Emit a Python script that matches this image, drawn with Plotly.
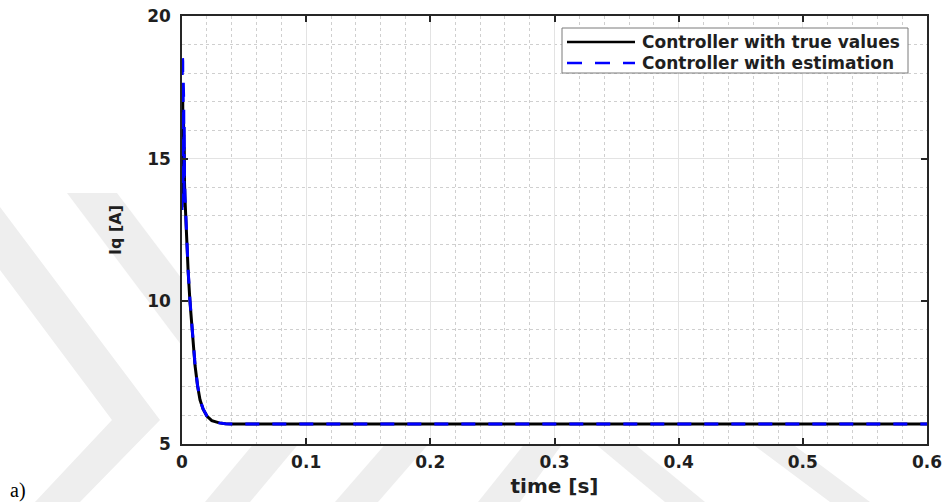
import plotly.graph_objects as go

# ---------------- data ----------------
t_true = [0, 0.0002, 0.0004, 0.0006, 0.0008, 0.0010, 0.0012, 0.0014, 0.0016, 0.0018,
          0.0020, 0.0024, 0.0030, 0.0040, 0.0050, 0.0064, 0.0080, 0.0095, 0.0105,
          0.0125, 0.0145, 0.0170, 0.0200, 0.0240, 0.0300, 0.0350, 0.0400,
          0.1, 0.2, 0.3, 0.4, 0.5, 0.6]
iq_true = [13.3, 17.3, 13.4, 17.0, 13.5, 16.6, 13.6, 16.0, 13.8, 15.4,
           14.2, 13.6, 12.9, 11.9, 11.0, 10.0, 9.0, 8.2, 7.75,
           7.05, 6.55, 6.22, 5.98, 5.82, 5.74, 5.71, 5.70,
           5.70, 5.70, 5.70, 5.70, 5.70, 5.70]

t_est = [0, 0.0002, 0.0004, 0.0006, 0.0008, 0.0010, 0.0012, 0.0014, 0.0016, 0.0018,
         0.0020, 0.0024, 0.0030, 0.0040, 0.0050, 0.0064, 0.0080, 0.0095, 0.0105,
         0.0125, 0.0145, 0.0170, 0.0200, 0.0240, 0.0300, 0.0350, 0.0400,
         0.1, 0.2, 0.3, 0.4, 0.5, 0.6]
iq_est = [13.2, 18.7, 13.3, 18.4, 13.5, 17.8, 13.6, 17.0, 13.8, 16.2,
          14.5, 13.7, 12.95, 11.95, 11.05, 10.05, 9.05, 8.22, 7.78,
          7.07, 6.56, 6.23, 5.99, 5.82, 5.74, 5.71, 5.70,
          5.70, 5.70, 5.70, 5.70, 5.70, 5.70]

x_ticks = [0, 0.1, 0.2, 0.3, 0.4, 0.5, 0.6]
x_tick_labels = ["0", "0.1", "0.2", "0.3", "0.4", "0.5", "0.6"]
y_ticks = [5, 10, 15, 20]
y_tick_labels = ["5", "10", "15", "20"]
series_names = ["Controller with true values", "Controller with estimation"]

# ---------------- layout helpers ----------------
W, H = 947, 502
L, R, T, B = 182, 927, 16, 444


def px(p):
    return (p - L) / (R - L)


def py(p):
    return (B - p) / (B - T)


BOLD = dict(family="DejaVu Sans", weight="bold", color="#1f1f1f")

fig = go.Figure()
fig.add_trace(go.Scatter(x=t_true, y=iq_true, mode="lines", name=series_names[0],
                         line=dict(color="black", width=3), showlegend=False))
fig.add_trace(go.Scatter(x=t_est, y=iq_est, mode="lines", name=series_names[1],
                         line=dict(color="#0000ff", width=3, dash="14px,13px"),
                         showlegend=False))

shapes = []
# faint background watermark (only in the margins, outside the plot area)
wm = "#eeeeee"
polys = [
    [(0, 207), (160, 420), (80, 502), (35, 502), (112, 420), (0, 270)],
    [(67, 193), (117, 193), (182, 279), (182, 346)],
    [(205, 502), (250, 502), (298, 444.5), (253, 444.5)],
    [(335, 502), (378, 502), (428, 444.5), (385, 444.5)],
    [(478, 502), (520, 502), (562, 444.5), (524, 444.5)],
    [(596, 444.5), (635, 444.5), (705, 502), (665, 502)],
    [(753, 444.5), (793, 444.5), (870, 502), (830, 502)],
]
for poly in polys:
    path = "M " + " L ".join(f"{px(a):.5f},{py(b):.5f}" for a, b in poly) + " Z"
    shapes.append(dict(type="path", xref="paper", yref="paper", path=path,
                       fillcolor=wm, line=dict(width=0), layer="below"))

# legend box
shapes.append(dict(type="rect", xref="paper", yref="paper",
                   x0=px(562), x1=px(908), y0=py(73), y1=py(28),
                   fillcolor="white", line=dict(color="#7a7a7a", width=1)))
shapes.append(dict(type="line", xref="paper", yref="paper",
                   x0=px(567), x1=px(635), y0=py(42), y1=py(42),
                   line=dict(color="black", width=2.5)))
shapes.append(dict(type="line", xref="paper", yref="paper",
                   x0=px(567), x1=px(635), y0=py(63), y1=py(63),
                   line=dict(color="#0000ff", width=2.5, dash="15px,13px")))

annotations = [
    dict(xref="paper", yref="paper", x=px(640), y=py(42), xanchor="left", yanchor="middle",
         text=series_names[0], showarrow=False, font=dict(size=17, **BOLD)),
    dict(xref="paper", yref="paper", x=px(640), y=py(63), xanchor="left", yanchor="middle",
         text=series_names[1], showarrow=False, font=dict(size=17, **BOLD)),
    dict(xref="paper", yref="paper", x=px(8), y=py(490), xanchor="left", yanchor="middle",
         text="a)", showarrow=False,
         font=dict(family="Liberation Serif", size=20, color="black")),
]

axis_common = dict(
    showline=True, linecolor="#262626", linewidth=1.5, mirror="ticks",
    ticks="inside", ticklen=6, tickwidth=1.5, tickcolor="#262626",
    showgrid=True, gridcolor="#e3e3e3", gridwidth=1, automargin=False,
    zeroline=False, tickfont=dict(size=17, **BOLD),
)

fig.update_layout(
    width=W, height=H, autosize=False,
    margin=dict(l=L, r=W - R, t=T, b=H - B, autoexpand=False),
    paper_bgcolor="white", plot_bgcolor="white",
    shapes=shapes, annotations=annotations,
    showlegend=False,
    xaxis=dict(range=[0, 0.6], tickvals=x_ticks, ticktext=x_tick_labels,
               ticklabelstandoff=2,
               title=dict(text="time [s]", font=dict(size=20, **BOLD), standoff=8),
               minor=dict(dtick=0.02, showgrid=True, griddash="dot",
                          gridcolor="#cfcfcf", gridwidth=1, ticks=""),
               **axis_common),
    yaxis=dict(range=[5, 20], tickvals=y_ticks, ticktext=y_tick_labels,
               ticklabelstandoff=6,
               title=dict(text="Iq [A]", font=dict(size=16, **BOLD), standoff=22),
               minor=dict(dtick=1, showgrid=True, griddash="dot",
                          gridcolor="#cfcfcf", gridwidth=1, ticks=""),
               **axis_common),
)

fig.write_html("out.html")
